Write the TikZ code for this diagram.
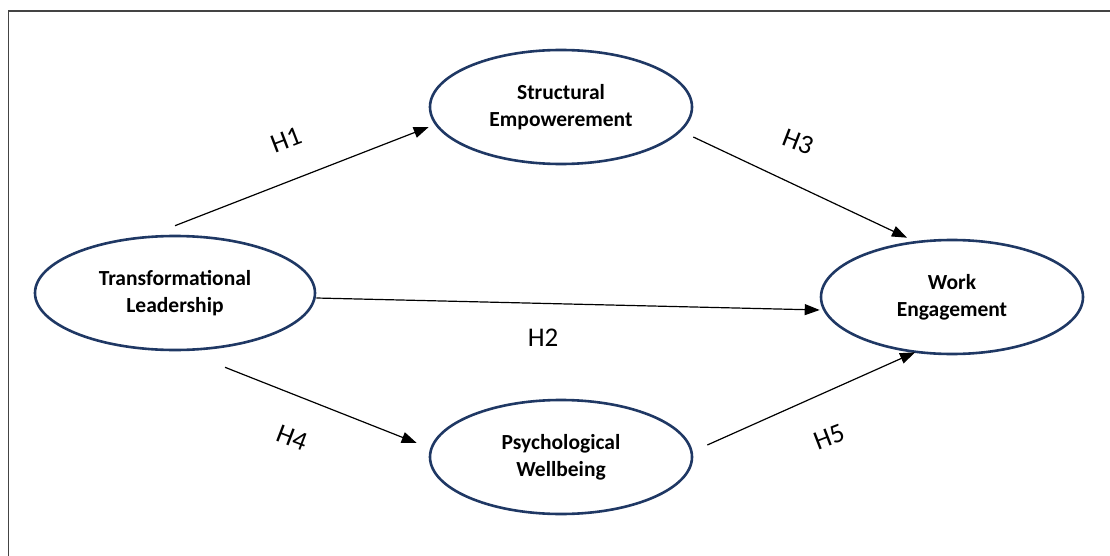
\documentclass[tikz,border=0pt]{standalone}
\usepackage{fontspec}
\setmainfont{Carlito}
\usetikzlibrary{shapes.geometric,arrows.meta}
\definecolor{navy}{HTML}{1F3864}
\definecolor{framegray}{HTML}{444444}
\begin{document}
\begin{tikzpicture}[x=1pt,y=-1pt,
  construct/.style={ellipse, draw=navy, line width=2.6pt, inner sep=0pt,
    minimum width=262pt, minimum height=114pt, align=center,
    font=\fontsize{21.5}{27}\selectfont\bfseries},
  path/.style={draw=black, line width=1.2pt, -{Triangle[length=15pt,width=11pt]}},
  hlabel/.style={font=\fontsize{27}{30}\selectfont}
]
\useasboundingbox (0,0) rectangle (1110,556);
\fill[white] (0,0) rectangle (1110,556);
\draw[framegray, line width=1.6pt] (8.5,556) -- (8.5,11) -- (1110,11);

\node[construct, minimum width=280pt] (tl) at (175,293) {Transformational\\Leadership};
\node[construct] (se) at (561,107) {Structural\\Empowerement};
\node[construct] (we) at (952,297) {Work\\Engagement};
\node[construct] (pw) at (561,457) {Psychological\\Wellbeing};

\draw[path] ([yshift=9pt]tl.north) -- ([yshift=-20pt]se.west);
\draw[path] ([yshift=-30pt]se.east) -- ([xshift=-45pt,yshift=1pt]we.north);
\draw[path] ([yshift=-5pt]tl.east) -- ([yshift=-13pt]we.west);
\draw[path] ([xshift=50pt,yshift=-16pt]tl.south) -- ([xshift=-12pt,yshift=14pt]pw.west);
\draw[path] ([xshift=14pt,yshift=12pt]pw.east) -- ([xshift=-37pt,yshift=3pt]we.south);

\node[hlabel, rotate=21] (h1) at (286,140) {H1};
\node[hlabel, rotate=-21] (h3) at (798,142) {H3};
\node[hlabel] (h2) at (543,338) {H2};
\node[hlabel, rotate=-21] (h4) at (292,438) {H4};
\node[hlabel, rotate=21] (h5) at (829,437) {H5};
\end{tikzpicture}
\end{document}
